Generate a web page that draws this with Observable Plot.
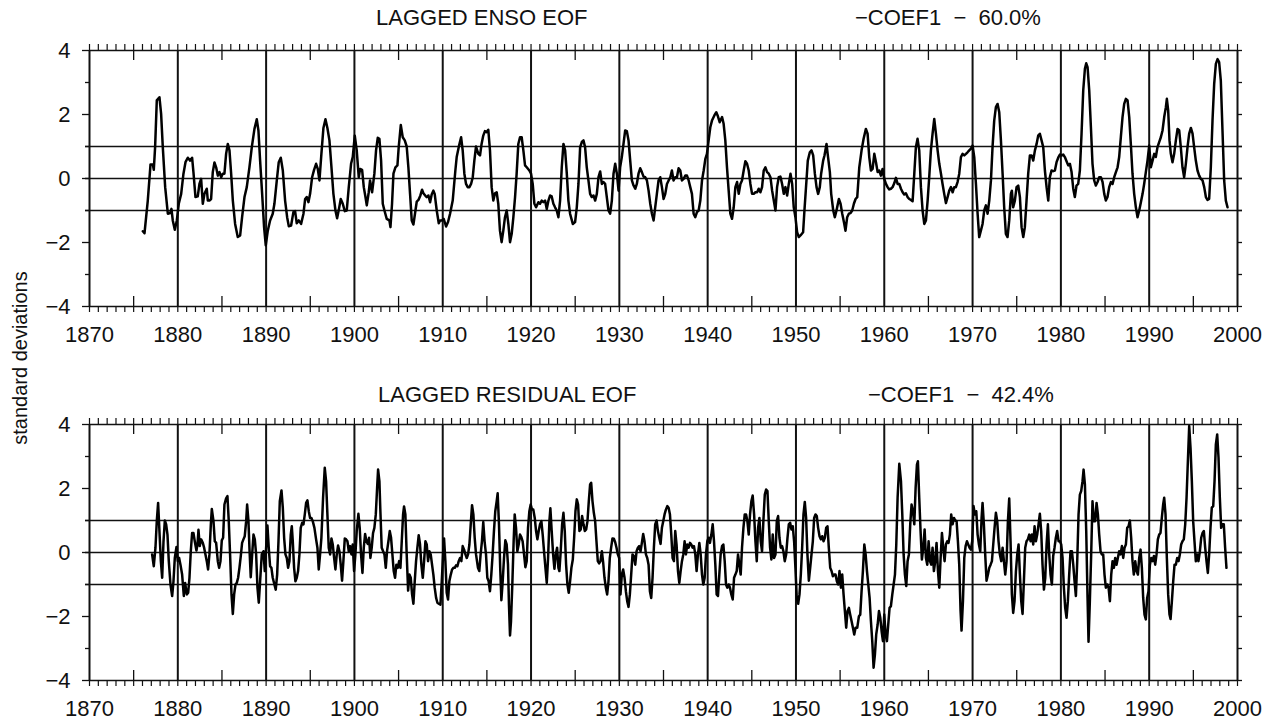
<!DOCTYPE html>
<html>
<head>
<meta charset="utf-8">
<script src="https://cdn.jsdelivr.net/npm/d3@7"></script>
<script src="https://cdn.jsdelivr.net/npm/@observablehq/plot@0.6"></script>
<style>
  html, body { margin: 0; padding: 0; background: #fff; overflow: hidden; }
  #chart { position: relative; width: 1269px; height: 721px; font-family: "Liberation Sans", Arial, sans-serif; font-weight: 400; color: #111; }
  .panel { position: absolute; left: 0; }
  .title { position: absolute; font-size: 22px; line-height: 22px; white-space: pre; }
  #ylab { position: absolute; font-size: 20px; line-height: 22px; width: 300px; text-align: center; transform: rotate(-90deg); }
</style>
</head>
<body>
<div id="chart"></div>
<script>
// ---- Text ----
const titlesTop = ["LAGGED ENSO EOF", "\u2212COEF1  \u2212  60.0%"];
const titlesBottom = ["LAGGED RESIDUAL EOF", "\u2212COEF1  \u2212  42.4%"];
const yLabel = "standard deviations";

// ---- Axis ticks ----
const xDomain = [1870, 2000];
const yDomain = [-4, 4];
const decadeLabels = [1870, 1880, 1890, 1900, 1910, 1920, 1930, 1940, 1950, 1960, 1970, 1980, 1990, 2000];
const decadeLines = [1880, 1890, 1900, 1910, 1920, 1930, 1940, 1950, 1960, 1970, 1980, 1990];
const halfDecades = [1875, 1885, 1895, 1905, 1915, 1925, 1935, 1945, 1955, 1965, 1975, 1985, 1995];
const yearTicks = d3.range(1870, 2001);
const yMajor = [-4, -2, 0, 2, 4];
const yMinor = [-3, -1, 1, 3];
const yRight = [-4, -3, -2, -1, 0, 1, 2, 3, 4];
const refLines = [-1, 0, 1];

// ---- Series 1: LAGGED ENSO EOF (year, std dev) ----
const ensoA = [
[1876.04,-1.65],[1876.23,-1.71],[1876.60,-0.69],[1876.91,0.44],[1877.17,0.44],[1877.28,0.27],[1877.43,0.98],[1877.62,2.44],[1877.92,2.54],[1878.11,2.02],
[1878.30,0.98],[1878.57,-0.27],[1878.87,-1.10],[1879.13,-1.08],[1879.28,-0.95],[1879.43,-1.31],[1879.66,-1.60],[1879.89,-1.31],[1880.11,-0.79],[1880.38,-0.48],
[1880.64,0.15],[1880.87,0.51],[1881.13,0.65],[1881.40,0.56],[1881.62,0.65],[1881.77,0.20],[1882.00,-0.58],[1882.26,-0.56],[1882.45,-0.17],[1882.64,-0.01],
[1882.83,-0.79],[1883.02,-0.48],[1883.28,-0.32],[1883.40,-0.69],[1883.58,-0.69],[1883.77,-0.64],[1883.96,0.20],[1884.15,0.50],[1884.34,0.35],[1884.53,0.09],
[1884.72,0.20],[1884.91,0.04],[1885.09,0.15],[1885.28,0.15],[1885.47,0.77],[1885.66,1.08],[1885.85,0.88],[1886.04,0.15],[1886.23,-0.69],[1886.49,-1.42],
[1886.79,-1.83],[1887.06,-1.78],[1887.28,-1.21],[1887.55,-0.58],[1887.81,-0.27],[1888.11,0.35],[1888.38,0.98],[1888.68,1.55],[1888.94,1.85],[1889.13,1.50],
[1889.32,0.56],[1889.55,-0.48],[1889.77,-1.52],[1889.96,-2.09],[1890.19,-1.63],[1890.45,-1.31],[1890.75,-1.10],[1890.94,-0.79],[1891.21,-0.06],[1891.43,0.51],
[1891.66,0.65],[1891.89,0.25],[1892.15,-0.69],[1892.38,-1.21],[1892.57,-1.49],[1892.83,-1.47],[1893.09,-1.05],[1893.28,-1.02],[1893.47,-1.40],[1893.70,-1.31],
[1893.96,-1.42],[1894.23,-1.10],[1894.42,-0.64],[1894.60,-0.58],[1894.79,-0.74],[1894.98,-0.48],[1895.21,0.04],[1895.43,0.27],[1895.66,0.46],[1895.85,0.30],
[1896.04,-0.06],[1896.26,0.77],[1896.49,1.58],[1896.72,1.85],[1896.94,1.58],[1897.17,1.19],[1897.40,0.35],[1897.62,-0.48],[1897.85,-1.00],[1898.04,-1.24],
[1898.23,-0.98],[1898.45,-0.64],[1898.68,-0.79],[1898.91,-1.02],[1899.13,-1.00],[1899.36,-0.27],[1899.62,0.46],[1899.81,0.67],[1900.04,1.34],[1900.26,0.88],
[1900.49,0.04],[1900.64,0.30],[1900.87,0.27],[1901.06,-0.27],[1901.25,-0.58],[1901.40,-0.84],[1901.62,-0.43],[1901.77,-0.06],[1902.00,-0.43],[1902.26,0.15],
[1902.45,0.88],[1902.64,1.27],[1902.83,1.24],[1903.02,0.56],[1903.21,-0.79],[1903.40,-1.00],[1903.66,-1.26],[1903.96,-1.31],[1904.08,-1.52],[1904.26,-0.79],
[1904.42,0.15],[1904.64,0.35],[1904.87,0.41],[1905.02,1.00],[1905.25,1.67],[1905.47,1.29],[1905.70,1.19],[1905.92,1.00],[1906.11,0.35],[1906.30,-0.48],
[1906.49,-1.31],[1906.68,-1.44],[1906.91,-1.00],[1907.06,-0.72],[1907.25,-0.67],[1907.47,-0.53],[1907.66,-0.35],[1907.81,-0.46],[1908.04,-0.54],[1908.19,-0.58],
[1908.38,-0.53],[1908.57,-0.74],[1908.75,-0.50],[1908.94,-0.38],[1909.09,-0.48],[1909.32,-1.00],[1909.55,-1.40],[1909.70,-1.31],[1909.92,-1.31],[1910.11,-1.26],
[1910.38,-1.50],[1910.60,-1.36],[1910.83,-1.10],[1911.13,-0.69],[1911.43,0.25],[1911.58,0.67],[1911.81,0.98],[1912.08,1.29],[1912.26,0.88],[1912.45,0.15],
[1912.64,-0.17],[1912.83,-0.27],[1913.02,-0.27],[1913.21,-0.17],[1913.40,0.04],[1913.58,0.56],[1913.77,1.00]
];
const ensoB = [
[1914.03,0.77],[1914.22,0.72],[1914.40,1.08],[1914.59,1.34],[1914.78,1.48],[1914.97,1.45],[1915.16,1.52],[1915.35,0.88],[1915.54,-0.27],[1915.73,-0.69],
[1915.92,-0.46],[1916.11,-0.43],[1916.29,-0.79],[1916.48,-1.63],[1916.67,-1.99],[1916.86,-1.63],[1917.05,-1.21],[1917.24,-1.00],[1917.43,-1.42],[1917.62,-1.99],
[1917.81,-1.73],[1918.00,-1.21],[1918.19,-0.58],[1918.37,0.15],[1918.56,1.08],[1918.75,1.29],[1918.94,1.29],[1919.13,0.88],[1919.32,0.41],[1919.51,0.35],
[1919.81,0.25],[1920.00,0.15],[1920.19,-0.17],[1920.38,-0.79],[1920.57,-0.90],[1920.83,-0.74],[1921.02,-0.79],[1921.21,-0.69],[1921.40,-0.74],[1921.59,-0.69],
[1921.78,-0.95],[1921.97,-0.69],[1922.16,-0.53],[1922.34,-0.56],[1922.53,-0.79],[1922.72,-0.90],[1922.91,-1.00],[1923.10,-1.21],[1923.29,-0.69],[1923.48,0.35],
[1923.67,1.08],[1923.86,0.88],[1924.05,0.15],[1924.23,-0.69],[1924.42,-1.10],[1924.73,-1.42],[1924.99,-1.36],[1925.18,-0.90],[1925.37,-0.17],[1925.56,0.98],
[1925.75,1.14],[1925.94,1.19],[1926.12,0.98],[1926.31,0.35],[1926.50,-0.06],[1926.69,-0.48],[1926.88,-0.58],[1927.07,-0.53],[1927.26,-0.69],[1927.45,-0.48],
[1927.64,0.04],[1927.83,0.22],[1928.02,-0.17],[1928.20,-0.11],[1928.39,-0.17],[1928.58,-0.58],[1928.77,-1.00],[1928.96,-1.10],[1929.15,-0.69],[1929.34,0.15],
[1929.53,0.46],[1929.72,0.15],[1929.91,-0.38],[1930.09,0.35],[1930.28,0.67],[1930.47,1.08],[1930.66,1.50],[1930.85,1.48],[1931.04,1.19],[1931.23,0.56],
[1931.42,-0.06],[1931.61,-0.22],[1931.80,-0.32],[1931.98,-0.17],[1932.17,0.15],[1932.36,0.32],[1932.55,0.20],[1932.74,0.06],[1932.93,0.04],[1933.12,-0.06],
[1933.31,-0.38],[1933.50,-0.79],[1933.69,-1.10],[1933.88,-1.31],[1934.06,-0.90],[1934.25,-0.48],[1934.44,-0.06],[1934.63,0.04],[1934.82,-0.27],[1935.01,-0.64],
[1935.20,-0.48],[1935.39,-0.17],[1935.58,-0.06],[1935.77,0.04],[1935.95,0.25],[1936.14,-0.06],[1936.33,0.04],[1936.52,0.04],[1936.71,0.32],[1936.90,0.25],
[1937.09,-0.06],[1937.28,-0.01],[1937.47,0.09],[1937.66,0.09],[1937.85,-0.06],[1938.03,-0.27],[1938.22,-0.48],[1938.41,-1.10],[1938.60,-1.21],[1938.79,-1.05],
[1938.98,-1.00],[1939.17,-0.69],[1939.36,-0.06],[1939.55,0.25],[1939.74,0.61],[1939.92,0.77],[1940.11,1.19],[1940.30,1.60],[1940.49,1.81],[1940.76,1.97],
[1940.98,2.07],[1941.13,1.97],[1941.36,1.76],[1941.63,1.92],[1941.81,1.71],[1942.00,1.19],[1942.19,0.35],[1942.38,-0.38],[1942.57,-1.10],[1942.76,-1.26],
[1942.95,-0.90],[1943.14,-0.27],[1943.33,-0.11],[1943.52,-0.48],[1943.71,-0.17],[1943.89,-0.06],[1944.08,0.25],[1944.27,0.54],[1944.46,0.46],[1944.65,0.25],
[1944.84,-0.17],[1945.03,-0.48],[1945.22,-0.48],[1945.41,-0.43],[1945.60,-0.43],[1945.78,-0.32],[1945.97,-0.43],[1946.16,-0.27],[1946.35,0.25],[1946.54,0.35],
[1946.73,0.20],[1946.92,0.15],[1947.11,0.04],[1947.30,-0.38],[1947.49,-0.69],[1947.68,-1.00],[1947.86,-0.27],[1948.05,0.04],[1948.24,0.06],[1948.43,-0.17],
[1948.62,-0.48],[1948.81,-0.27],[1949.00,-0.53],[1949.19,-0.17],[1949.38,0.15],[1949.57,-0.17],[1949.75,-0.90],[1949.94,-1.21],[1950.13,-1.68],[1950.32,-1.83],
[1950.51,-1.78],[1950.81,-1.68],[1950.96,-1.00],[1951.19,-0.06],[1951.34,0.56],[1951.57,0.82],[1951.76,0.88],[1951.95,0.72],[1952.14,0.15],[1952.33,-0.27],
[1952.51,-0.48],[1952.70,-0.27],[1952.85,0.15],[1953.08,0.56],[1953.23,0.72],[1953.46,1.08],[1953.61,0.72],[1953.84,0.20],[1953.99,-0.48],[1954.22,-1.00],
[1954.40,-1.21],[1954.59,-1.00],[1954.86,-0.64],[1955.05,-0.79],[1955.24,-1.10],[1955.43,-1.36],[1955.61,-1.63],[1955.80,-1.21],[1955.99,-1.10],[1956.18,-1.08],
[1956.37,-1.00],[1956.56,-0.79],[1956.75,-0.64],[1956.94,-0.58]
];
const ensoC = [
[1957.17,0.35],[1957.43,0.88],[1957.66,1.24],[1957.92,1.55],[1958.11,1.40],[1958.30,0.67],[1958.49,0.25],[1958.68,0.30],[1958.87,0.77],[1959.06,0.51],
[1959.25,0.20],[1959.43,0.25],[1959.62,0.09],[1959.81,0.30],[1960.00,-0.01],[1960.19,-0.17],[1960.38,-0.27],[1960.57,-0.34],[1960.75,-0.32],[1960.94,-0.27],
[1961.13,-0.15],[1961.32,0.02],[1961.51,-0.17],[1961.70,-0.17],[1961.89,-0.32],[1962.08,-0.43],[1962.26,-0.50],[1962.45,-0.46],[1962.64,-0.58],[1962.83,-0.64],
[1963.02,-0.67],[1963.21,-0.71],[1963.40,0.15],[1963.58,0.98],[1963.77,1.24],[1963.96,0.88],[1964.15,-0.27],[1964.34,-1.00],[1964.53,-1.42],[1964.72,-1.31],
[1964.91,-0.69],[1965.09,0.04],[1965.28,0.88],[1965.47,1.40],[1965.66,1.86],[1965.85,1.40],[1966.04,0.88],[1966.23,0.46],[1966.42,0.15],[1966.60,-0.17],
[1966.79,-0.48],[1966.98,-0.77],[1967.17,-0.58],[1967.36,-0.38],[1967.55,-0.27],[1967.74,-0.43],[1967.92,-0.27],[1968.11,-0.27],[1968.30,-0.11],[1968.49,0.15],
[1968.68,0.67],[1968.87,0.77],[1969.06,0.72],[1969.25,0.77],[1969.43,0.82],[1969.62,0.88],[1969.81,0.93],[1970.00,1.03],[1970.19,0.67],[1970.38,-0.17],
[1970.57,-1.10],[1970.75,-1.83],[1970.94,-1.63],[1971.13,-1.42],[1971.32,-1.00],[1971.51,-0.84],[1971.70,-1.10],[1971.89,-0.69],[1972.08,-0.06],[1972.26,0.98],
[1972.45,1.81],[1972.64,2.23],[1972.83,2.33],[1973.02,2.07],[1973.21,1.19],[1973.40,0.15],[1973.58,-0.90],[1973.77,-1.73],[1973.96,-1.83],[1974.15,-1.31],
[1974.34,-0.48],[1974.45,-0.38],[1974.60,-0.90],[1974.79,-0.69],[1974.98,-0.27],[1975.17,-0.22],[1975.36,-0.58],[1975.55,-1.52],[1975.74,-1.83],[1975.92,-1.52],
[1976.11,-0.69],[1976.30,0.15],[1976.49,0.72],[1976.68,0.72],[1976.87,0.56],[1977.06,0.88],[1977.25,1.08],[1977.43,1.34],[1977.62,1.40],[1977.81,1.19],
[1978.00,0.98],[1978.19,0.25],[1978.38,-0.27],[1978.57,-0.69],[1978.75,0.04],[1978.94,0.25],[1979.13,0.23],[1979.32,0.25],[1979.51,0.51],[1979.70,0.65],
[1979.89,0.75],[1980.08,0.72],[1980.26,0.75],[1980.45,0.67],[1980.64,0.54],[1980.83,0.41],[1981.02,0.46],[1981.21,0.20],[1981.40,-0.32],[1981.58,-0.58],
[1981.77,-0.22],[1981.96,-0.17],[1982.15,0.25],[1982.34,1.40],[1982.53,2.75],[1982.72,3.43],[1982.87,3.60],[1983.02,3.48],[1983.21,2.75],[1983.40,1.60],
[1983.58,0.46],[1983.77,-0.06],[1983.96,-0.22],[1984.15,-0.11],[1984.34,0.04],[1984.53,0.04],[1984.72,-0.11],[1984.91,-0.48],[1985.09,-0.69],[1985.28,-0.58],
[1985.47,-0.27],[1985.66,-0.11],[1985.85,-0.17],[1986.04,0.04],[1986.23,0.20],[1986.42,0.35],[1986.60,0.67],[1986.79,1.29],[1986.98,1.92],[1987.17,2.33],
[1987.36,2.49],[1987.55,2.44],[1987.74,1.92],[1987.92,1.08],[1988.11,0.15],[1988.30,-0.48],[1988.49,-0.90],[1988.68,-1.21],[1988.87,-1.00],[1989.06,-0.74],
[1989.25,-0.48],[1989.43,-0.17],[1989.62,0.20],[1989.81,0.56],[1990.00,1.03],[1990.19,0.35],[1990.38,0.56],[1990.57,0.77],[1990.75,0.67],[1990.94,0.98],
[1991.13,1.14],[1991.32,1.29],[1991.51,1.50],[1991.70,1.92],[1991.89,2.23],[1992.00,2.49],[1992.15,2.13],[1992.30,1.19],[1992.45,0.77],[1992.64,0.51],
[1992.83,0.77],[1993.02,1.19],[1993.21,1.55],[1993.40,1.50],[1993.58,0.98],[1993.77,0.35],[1993.96,0.04],[1994.15,0.46],[1994.34,0.98],[1994.53,1.40],
[1994.72,1.58],[1994.91,1.40],[1995.09,0.98],[1995.28,0.56],[1995.47,0.25],[1995.66,0.09],[1995.85,-0.01],[1996.04,-0.06],[1996.23,-0.27],[1996.42,-0.58],
[1996.60,-0.67],[1996.79,-0.64],[1996.98,0.35],[1997.17,1.81],[1997.36,2.96],[1997.55,3.58],[1997.74,3.73],[1997.92,3.64],[1998.11,3.06],[1998.30,1.50],
[1998.49,-0.06],[1998.68,-0.69],[1998.87,-0.90]
];

// ---- Series 2: LAGGED RESIDUAL EOF (year, std dev) ----
const residA = [
[1877.09,-0.06],[1877.28,-0.43],[1877.47,0.15],[1877.62,0.98],[1877.77,1.55],[1877.92,0.67],[1878.08,-0.27],[1878.23,-0.79],[1878.38,0.35],[1878.53,1.00],
[1878.68,0.88],[1878.83,0.56],[1878.98,-0.27],[1879.17,-1.00],[1879.36,-1.36],[1879.51,-0.90],[1879.66,-0.17],[1879.85,0.17],[1880.00,-0.27],[1880.15,-0.17],
[1880.30,-0.38],[1880.49,-0.69],[1880.68,-1.36],[1880.83,-0.95],[1881.02,-1.31],[1881.17,-1.26],[1881.32,-0.79],[1881.47,0.04],[1881.62,0.61],[1881.77,0.61],
[1881.92,0.35],[1882.11,0.06],[1882.23,0.25],[1882.34,0.71],[1882.49,0.20],[1882.64,0.41],[1882.83,0.30],[1882.98,0.15],[1883.13,-0.06],[1883.28,-0.27],
[1883.43,-0.53],[1883.58,-0.06],[1883.74,0.88],[1883.85,1.36],[1884.04,0.98],[1884.19,0.35],[1884.34,0.30],[1884.53,-0.27],[1884.68,-0.48],[1884.83,-0.27],
[1884.98,0.38],[1885.13,0.46],[1885.28,1.50],[1885.47,1.69],[1885.62,1.76],[1885.77,0.98],[1885.92,-0.06],[1886.08,-1.31],[1886.23,-1.92],[1886.38,-1.31],
[1886.53,-1.00],[1886.68,-0.95],[1886.83,-0.79],[1886.98,-0.48],[1887.13,-0.11],[1887.28,0.30],[1887.43,0.41],[1887.58,0.51],[1887.74,0.98],[1887.85,1.50],
[1888.00,0.98],[1888.11,0.15],[1888.26,-0.77],[1888.42,-0.06],[1888.57,0.56],[1888.72,0.41],[1888.87,-0.06],[1889.02,-1.10],[1889.17,-1.57],[1889.32,-0.90],
[1889.51,-0.06],[1889.70,0.04],[1889.85,-0.58],[1890.00,0.15],[1890.15,0.84],[1890.30,0.15],[1890.45,-0.43],[1890.60,-0.48],[1890.75,-0.79],[1890.94,-1.00],
[1891.09,-1.16],[1891.25,-0.69],[1891.40,0.35],[1891.55,1.60],[1891.74,1.94],[1891.89,1.40],[1892.04,0.46],[1892.19,-0.06],[1892.34,-0.17],[1892.49,-0.48],
[1892.64,-0.27],[1892.79,0.56],[1892.91,0.82],[1893.02,0.35],[1893.17,-0.48],[1893.32,-0.90],[1893.47,-0.79],[1893.62,-0.58],[1893.77,-0.06],[1893.92,0.77],
[1894.08,0.93],[1894.23,0.88],[1894.38,1.19],[1894.53,1.55],[1894.68,1.63],[1894.83,1.29],[1894.98,1.08],[1895.13,1.08],[1895.28,0.98],[1895.47,0.77],
[1895.66,0.41],[1895.81,0.15],[1895.96,-0.53],[1896.11,-0.06],[1896.26,0.46],[1896.45,1.71],[1896.64,2.65],[1896.79,2.23],[1896.94,1.19],[1897.09,0.15],
[1897.25,-0.06],[1897.40,0.44],[1897.55,0.25],[1897.70,-0.17],[1897.85,-0.53],[1898.00,-0.06],[1898.15,0.22],[1898.30,0.04],[1898.45,-0.38],[1898.60,-0.88],
[1898.75,-0.27],[1898.91,0.44],[1899.06,0.41],[1899.21,0.35],[1899.36,0.04],[1899.51,0.20],[1899.66,-0.06],[1899.81,0.25],[1899.96,-0.58],[1900.11,-0.06],
[1900.26,0.67],[1900.45,1.21],[1900.60,0.77],[1900.75,-0.06],[1900.91,-0.64],[1901.06,0.15],[1901.21,0.58],[1901.36,0.35],[1901.51,0.27],[1901.66,0.46],
[1901.81,-0.17],[1901.96,0.15],[1902.11,0.61],[1902.26,0.77],[1902.42,1.19],[1902.57,2.02],[1902.68,2.59],[1902.83,2.23],[1902.94,1.29],[1903.09,0.15],
[1903.25,0.04],[1903.40,-0.06],[1903.55,-0.48],[1903.70,0.06],[1903.85,0.35],[1904.00,0.67],[1904.15,0.46],[1904.30,-0.06],[1904.45,-0.58],[1904.60,-0.79],
[1904.75,-0.38],[1904.91,-0.48],[1905.06,-0.27],[1905.21,-0.48],[1905.36,0.35],[1905.51,1.19],[1905.62,1.44],[1905.77,1.19],[1905.92,-0.06],[1906.08,-1.19],
[1906.23,-0.69],[1906.38,-0.79],[1906.53,-1.31],[1906.68,-1.60],[1906.83,-0.90],[1906.98,-0.27],[1907.13,0.15],[1907.28,0.54],[1907.43,0.25],[1907.58,-0.38],
[1907.74,-0.79],[1907.89,-0.27],[1908.04,0.35],[1908.19,0.25],[1908.34,-0.27],[1908.49,0.04],[1908.64,-0.06],[1908.79,-0.38],[1908.94,-0.69],[1909.09,-1.10],
[1909.25,-1.42],[1909.40,-1.57],[1909.55,-1.60],[1909.74,-1.63],[1909.89,-0.90],[1910.04,-0.06],[1910.15,0.44],[1910.30,-0.27],[1910.45,-1.26],[1910.60,-1.47],
[1910.75,-0.90],[1910.91,-0.69],[1911.06,-0.53],[1911.21,-0.48],[1911.36,-0.48],[1911.51,-0.40],[1911.66,-0.43],[1911.81,-0.27],[1911.96,-0.17],[1912.11,-0.27],
[1912.26,0.20],[1912.42,0.09],[1912.57,-0.06],[1912.72,-0.17],[1912.87,-0.06],[1913.02,0.25],[1913.17,0.88],[1913.32,1.48],[1913.47,1.19],[1913.62,0.46],
[1913.77,-0.06]
];
const residB = [
[1913.99,-0.48],[1914.14,-0.58],[1914.29,-0.06],[1914.44,0.35],[1914.59,0.95],[1914.74,0.35],[1914.90,-0.06],[1915.05,-0.79],[1915.20,-0.90],[1915.35,-1.21],
[1915.50,-0.69],[1915.65,-0.06],[1915.80,0.67],[1915.95,1.29],[1916.11,1.60],[1916.22,1.85],[1916.37,0.88],[1916.52,-0.58],[1916.64,-1.49],[1916.79,-0.90],
[1916.94,-0.17],[1917.09,0.38],[1917.24,0.25],[1917.39,-0.38],[1917.50,-1.63],[1917.62,-2.59],[1917.73,-2.15],[1917.88,-1.00],[1918.03,0.35],[1918.15,1.19],
[1918.30,0.77],[1918.45,0.04],[1918.60,0.25],[1918.75,0.56],[1918.90,0.48],[1919.05,0.35],[1919.21,-0.06],[1919.36,-0.46],[1919.51,-0.27],[1919.66,0.77],
[1919.81,1.29],[1919.96,1.50],[1920.11,1.34],[1920.26,1.34],[1920.42,1.08],[1920.57,0.67],[1920.72,0.41],[1920.87,0.67],[1921.02,0.88],[1921.17,0.98],
[1921.32,0.56],[1921.47,0.04],[1921.63,-0.48],[1921.78,-0.95],[1921.93,-0.17],[1922.08,0.98],[1922.19,1.38],[1922.34,0.67],[1922.50,-0.06],[1922.65,-0.51],
[1922.80,-0.06],[1922.95,0.15],[1923.10,-0.48],[1923.21,-0.58],[1923.36,0.04],[1923.52,0.88],[1923.67,1.24],[1923.82,0.67],[1923.97,-0.38],[1924.12,-1.00],
[1924.27,-1.26],[1924.42,-0.90],[1924.57,-0.48],[1924.73,-0.22],[1924.88,0.46],[1925.03,1.29],[1925.18,1.66],[1925.33,1.50],[1925.48,0.67],[1925.63,0.72],
[1925.78,1.14],[1925.94,0.88],[1926.09,0.67],[1926.24,0.72],[1926.39,0.98],[1926.54,1.60],[1926.69,2.13],[1926.81,2.18],[1926.96,1.60],[1927.11,1.24],
[1927.26,0.98],[1927.41,0.35],[1927.56,-0.27],[1927.71,-0.34],[1927.86,-0.27],[1928.02,0.04],[1928.17,-0.32],[1928.32,-0.79],[1928.47,-1.10],[1928.62,-1.31],
[1928.77,-0.90],[1928.92,-0.17],[1929.07,0.15],[1929.22,0.44],[1929.38,0.43],[1929.53,0.32],[1929.68,0.15],[1929.83,-0.06],[1929.98,-0.17],[1930.13,-1.31],
[1930.28,-0.69],[1930.43,-0.53],[1930.59,-0.79],[1930.74,-1.21],[1930.89,-1.52],[1931.04,-1.70],[1931.19,-1.31],[1931.34,-0.69],[1931.49,-0.06],[1931.64,-0.11],
[1931.80,-0.38],[1931.95,0.04],[1932.10,0.15],[1932.25,0.20],[1932.40,0.04],[1932.55,0.30],[1932.70,0.58],[1932.85,0.35],[1933.01,-0.06],[1933.16,-0.17],
[1933.31,-0.38],[1933.46,-1.21],[1933.61,-1.42],[1933.76,-0.79],[1933.91,0.15],[1934.06,0.88],[1934.22,1.00],[1934.37,0.67],[1934.52,0.46],[1934.67,0.27],
[1934.82,0.77],[1934.97,0.98],[1935.12,1.19],[1935.27,1.34],[1935.43,1.45],[1935.58,1.40],[1935.73,1.19],[1935.88,0.56],[1936.03,-0.17],[1936.18,-0.27],
[1936.33,0.67],[1936.48,0.25],[1936.64,-0.58],[1936.79,-0.95],[1936.94,-0.58],[1937.09,-0.27],[1937.24,-0.06],[1937.39,0.35],[1937.54,-0.06],[1937.69,0.25],
[1937.85,0.15],[1938.00,0.30],[1938.15,0.25],[1938.30,0.15],[1938.45,0.20],[1938.60,-0.06],[1938.75,-0.58],[1938.90,-0.06],[1939.06,0.30],[1939.21,-0.06],
[1939.36,-0.69],[1939.51,-1.00],[1939.66,-0.79],[1939.81,-0.06],[1939.96,0.35],[1940.11,0.46],[1940.26,0.30],[1940.42,0.56],[1940.57,0.88],[1940.72,0.35],
[1940.87,-0.38],[1941.02,-1.31],[1941.17,-1.36],[1941.32,-0.69],[1941.47,-0.06],[1941.63,0.20],[1941.78,0.25],[1941.93,-0.27],[1942.08,-1.00],[1942.23,-1.10],
[1942.38,-1.00],[1942.53,-1.10],[1942.68,-1.31],[1942.84,-1.47],[1942.99,-0.79],[1943.14,-0.69],[1943.29,-0.58],[1943.44,-0.06],[1943.59,-0.38],[1943.74,-0.69],
[1943.89,0.15],[1944.05,0.77],[1944.20,1.19],[1944.35,1.19],[1944.50,0.98],[1944.65,0.56],[1944.80,1.19],[1944.95,1.60],[1945.10,1.78],[1945.26,1.19],
[1945.41,0.35],[1945.56,-0.27],[1945.71,0.77],[1945.86,1.08],[1946.01,0.35],[1946.16,0.04],[1946.31,0.98],[1946.47,1.81],[1946.62,1.97],[1946.77,1.92],
[1946.92,0.98],[1947.07,0.15],[1947.22,-0.22],[1947.37,0.56],[1947.52,-0.17],[1947.68,-0.06],[1947.83,0.98],[1947.98,1.14],[1948.13,0.46],[1948.28,0.15],
[1948.43,0.20],[1948.58,0.04],[1948.73,-0.27],[1948.89,-0.06],[1949.04,0.46],[1949.19,0.88],[1949.34,0.93],[1949.49,0.72],[1949.64,0.82],[1949.79,0.35],
[1949.94,-0.48],[1950.09,-1.42],[1950.25,-1.60],[1950.40,-1.31],[1950.55,-0.69],[1950.70,0.15],[1950.85,1.19],[1951.00,1.58],[1951.15,1.08],[1951.30,-0.06],
[1951.46,-0.88],[1951.61,-0.48],[1951.76,-0.06],[1951.91,0.35],[1952.06,1.08],[1952.21,1.19],[1952.36,1.14],[1952.51,0.77],[1952.67,0.51],[1952.82,0.41],
[1952.97,0.51],[1953.12,0.35],[1953.27,0.46],[1953.42,0.77],[1953.57,0.82],[1953.72,0.15],[1953.88,-0.48],[1954.03,-0.58],[1954.18,-0.74],[1954.33,-0.69],
[1954.48,-0.69],[1954.63,-0.90],[1954.78,-1.00],[1954.93,-0.58],[1955.09,-1.10],[1955.24,-0.69],[1955.39,-1.31],[1955.54,-1.83],[1955.69,-2.35],[1955.84,-1.83],
[1955.99,-1.73],[1956.14,-1.94],[1956.30,-2.15],[1956.45,-2.35],[1956.60,-2.56],[1956.75,-2.35],[1956.94,-2.35]
];
const residC = [
[1957.13,-1.99],[1957.28,-1.94],[1957.43,-1.21],[1957.58,-0.58],[1957.74,0.25],[1957.89,-0.06],[1958.04,-0.58],[1958.19,-1.00],[1958.34,-1.42],[1958.49,-2.15],
[1958.64,-2.77],[1958.79,-3.60],[1958.94,-3.19],[1959.09,-2.56],[1959.25,-2.25],[1959.40,-1.83],[1959.55,-2.04],[1959.70,-2.46],[1959.85,-2.77],[1960.00,-1.94],
[1960.15,-2.56],[1960.30,-2.77],[1960.45,-2.25],[1960.60,-1.73],[1960.75,-1.68],[1960.91,-1.31],[1961.06,-1.00],[1961.21,-0.69],[1961.36,0.25],[1961.51,1.71],
[1961.70,2.77],[1961.89,2.23],[1962.04,1.19],[1962.19,-0.06],[1962.34,-0.69],[1962.49,-1.05],[1962.64,-0.27],[1962.79,-0.06],[1962.94,0.88],[1963.09,1.50],
[1963.25,1.29],[1963.40,0.88],[1963.55,2.02],[1963.70,2.75],[1963.81,2.85],[1963.96,1.71],[1964.11,0.67],[1964.26,-0.22],[1964.42,0.15],[1964.57,0.72],
[1964.72,-0.17],[1964.87,-0.38],[1965.02,0.35],[1965.17,-0.27],[1965.32,-0.38],[1965.47,0.15],[1965.62,-0.58],[1965.77,-0.27],[1965.92,0.30],[1966.08,-0.58],
[1966.23,-1.10],[1966.38,-0.17],[1966.53,0.61],[1966.68,0.15],[1966.83,-0.27],[1966.98,0.25],[1967.13,0.35],[1967.28,0.30],[1967.43,0.56],[1967.58,1.19],
[1967.74,0.88],[1967.89,1.08],[1968.04,1.00],[1968.19,0.98],[1968.34,0.35],[1968.49,-0.38],[1968.64,-1.83],[1968.75,-2.44],[1968.91,-1.52],[1969.06,-0.17],
[1969.21,0.20],[1969.36,0.35],[1969.51,0.25],[1969.66,0.15],[1969.81,0.09],[1969.96,0.35],[1970.11,1.45],[1970.26,1.19],[1970.42,1.29],[1970.57,0.56],
[1970.72,0.25],[1970.87,0.04],[1971.02,1.08],[1971.13,1.55],[1971.28,0.88],[1971.43,-0.06],[1971.58,-0.88],[1971.74,-0.69],[1971.89,-0.48],[1972.04,-0.38],
[1972.19,-0.27],[1972.34,0.25],[1972.49,0.77],[1972.64,1.24],[1972.79,0.98],[1972.94,0.35],[1973.09,-0.06],[1973.25,-0.27],[1973.40,0.15],[1973.55,-0.27],
[1973.70,-0.69],[1973.85,-0.27],[1974.00,0.98],[1974.15,1.69],[1974.30,0.35],[1974.45,-1.31],[1974.60,-1.89],[1974.75,-1.52],[1974.91,-0.58],[1975.06,-0.06],
[1975.21,0.25],[1975.36,-0.69],[1975.51,-1.52],[1975.66,-1.92],[1975.81,-0.90],[1975.96,0.15],[1976.11,0.35],[1976.26,0.41],[1976.42,0.56],[1976.57,0.35],
[1976.72,0.56],[1976.87,0.25],[1977.02,0.82],[1977.17,0.35],[1977.32,0.56],[1977.47,0.88],[1977.62,1.21],[1977.77,0.67],[1977.92,-0.38],[1978.08,-1.16],
[1978.23,-0.79],[1978.38,0.25],[1978.53,0.88],[1978.68,-0.06],[1978.83,-0.69],[1978.98,-1.00],[1979.13,-0.11],[1979.28,0.15],[1979.43,0.46],[1979.58,0.67],
[1979.74,0.35],[1979.89,0.35],[1980.04,0.25],[1980.19,-0.17],[1980.34,-1.10],[1980.49,-1.73],[1980.64,-2.04],[1980.79,-1.52],[1980.94,-0.69],[1981.09,0.04],
[1981.25,0.04],[1981.40,-0.38],[1981.55,-0.90],[1981.70,-1.36],[1981.85,-0.27],[1982.00,1.19],[1982.15,1.81],[1982.30,1.92],[1982.45,2.23],[1982.57,2.59],
[1982.72,2.13],[1982.87,0.67],[1983.02,-1.42],[1983.13,-2.79],[1983.28,-1.52],[1983.43,-0.06],[1983.58,1.60],[1983.74,0.98],[1983.89,0.98],[1984.04,1.55],
[1984.19,1.19],[1984.34,0.56],[1984.49,0.04],[1984.64,-0.06],[1984.79,-0.06],[1984.94,-0.69],[1985.09,-1.10],[1985.25,-1.00],[1985.40,-1.10],[1985.55,-1.52],
[1985.70,-0.69],[1985.85,-0.27],[1986.00,-0.48],[1986.15,-0.17],[1986.30,-0.38],[1986.45,-0.17],[1986.60,0.04],[1986.75,-0.06],[1986.91,0.20],[1987.06,-0.17],
[1987.21,0.15],[1987.36,0.25],[1987.51,0.77],[1987.66,0.82],[1987.81,1.00],[1987.96,0.46],[1988.11,-0.27],[1988.26,-0.69],[1988.42,-0.27],[1988.57,-0.58],
[1988.72,-0.69],[1988.87,-0.17],[1989.02,0.09],[1989.17,-0.48],[1989.32,-1.42],[1989.47,-1.94],[1989.62,-2.09],[1989.77,-1.42],[1989.92,-1.21],[1990.08,-0.38],
[1990.23,-0.17],[1990.38,-0.27],[1990.53,-0.11],[1990.68,-0.38],[1990.83,-0.06],[1990.98,0.41],[1991.13,0.56],[1991.28,0.61],[1991.43,1.08],[1991.58,1.50],
[1991.70,1.71],[1991.85,1.19],[1992.00,-0.17],[1992.15,-1.31],[1992.30,-1.94],[1992.42,-2.08],[1992.57,-1.52],[1992.72,-0.90],[1992.87,-0.38],[1993.02,-0.38],
[1993.17,-0.17],[1993.32,-0.27],[1993.47,-0.06],[1993.62,0.25],[1993.77,0.35],[1993.92,0.41],[1994.08,0.88],[1994.23,1.71],[1994.38,2.85],[1994.53,3.95],
[1994.68,3.27],[1994.83,2.23],[1994.98,0.98],[1995.13,0.35],[1995.28,-0.27],[1995.43,-0.06],[1995.58,-0.27],[1995.74,0.04],[1995.89,0.46],[1996.04,0.61],
[1996.19,0.67],[1996.34,0.15],[1996.49,-0.27],[1996.64,-0.64],[1996.79,-0.06],[1996.94,0.77],[1997.09,1.40],[1997.25,1.45],[1997.40,2.23],[1997.55,3.38],
[1997.70,3.69],[1997.85,2.96],[1998.00,1.71],[1998.15,0.77],[1998.30,0.88],[1998.45,0.88],[1998.60,0.15],[1998.75,-0.48]
];

const ensoSeries = [...ensoA, ...ensoB, ...ensoC];
const residSeries = [...residA, ...residB, ...residC];

// ---- Drawing ----
const minus = d => d < 0 ? "\u2212" + Math.abs(d) : String(d);

function panel(series, height, marginBottom) {
  return Plot.plot({
    width: 1269,
    height,
    marginLeft: 89,
    marginRight: 32,
    marginTop: 50,
    marginBottom,
    x: {domain: xDomain, axis: null},
    y: {domain: yDomain, axis: null},
    style: {background: "white", color: "#111", fontFamily: "'Liberation Sans', Arial, sans-serif", fontWeight: 400, fontSize: "22px", overflow: "visible"},
    marks: [
      // reference lines at -1, 0, 1 (extend slightly past frame)
      Plot.ruleY(refLines, {stroke: "#111", strokeWidth: 1.3, insetLeft: -4, insetRight: -5}),
      // decade grid lines
      Plot.ruleX(decadeLines, {stroke: "#111", strokeWidth: 2}),
      // frame
      Plot.ruleX(xDomain, {stroke: "#111", strokeWidth: 2}),
      Plot.ruleY(yDomain, {stroke: "#111", strokeWidth: 1.5}),
      // top axis: yearly ticks outward, 5-year ticks inward
      Plot.ruleX(yearTicks, {y1: 4, y2: 4, insetTop: -6, stroke: "#111", strokeWidth: 1.2}),
      Plot.ruleX(halfDecades, {y1: 4, y2: 4, insetBottom: -10, stroke: "#111", strokeWidth: 1.3}),
      // bottom axis: yearly ticks outward, 5-year ticks inward
      Plot.ruleX(yearTicks, {y1: -4, y2: -4, insetBottom: -6, stroke: "#111", strokeWidth: 1.2}),
      Plot.ruleX(halfDecades, {y1: -4, y2: -4, insetTop: -10, stroke: "#111", strokeWidth: 1.3}),
      // left y ticks
      Plot.ruleY(yMajor, {x1: 1870, x2: 1870, insetLeft: -7, stroke: "#111", strokeWidth: 1.3}),
      Plot.ruleY(yMinor, {x1: 1870, x2: 1870, insetLeft: -4, stroke: "#111", strokeWidth: 1.3}),
      // right y ticks
      Plot.ruleY(yRight, {x1: 2000, x2: 2000, insetRight: -5, stroke: "#111", strokeWidth: 1.3}),
      // tick labels
      Plot.axisX(decadeLabels, {anchor: "bottom", tickSize: 0, tickPadding: 20, tickFormat: d => String(d), label: null, fontSize: 22}),
      Plot.axisY(yMajor, {anchor: "left", tickSize: 0, tickPadding: 19, tickFormat: minus, label: null, fontSize: 22}),
      // data
      Plot.line(series, {x: d => d[0], y: d => d[1], stroke: "#000", strokeWidth: 2.5, strokeLinejoin: "round", clip: true})
    ]
  });
}

const root = document.getElementById("chart");

const p1 = panel(ensoSeries, 360, 54);
p1.classList.add("panel");
p1.style.top = "0px";
root.appendChild(p1);

const p2 = panel(residSeries, 347, 41);
p2.classList.add("panel");
p2.style.top = "374px";
root.appendChild(p2);

function addText(txt, cls, left, top) {
  const d = document.createElement("div");
  d.className = cls;
  d.textContent = txt;
  d.style.left = left + "px";
  d.style.top = top + "px";
  root.appendChild(d);
  return d;
}
addText(titlesTop[0], "title", 376, 7);
addText(titlesTop[1], "title", 855, 7);
addText(titlesBottom[0], "title", 378, 384);
addText(titlesBottom[1], "title", 868, 384);
addText(yLabel, "ylab", 20 - 150, 358 - 11).id = "ylab";
</script>
</body>
</html>
